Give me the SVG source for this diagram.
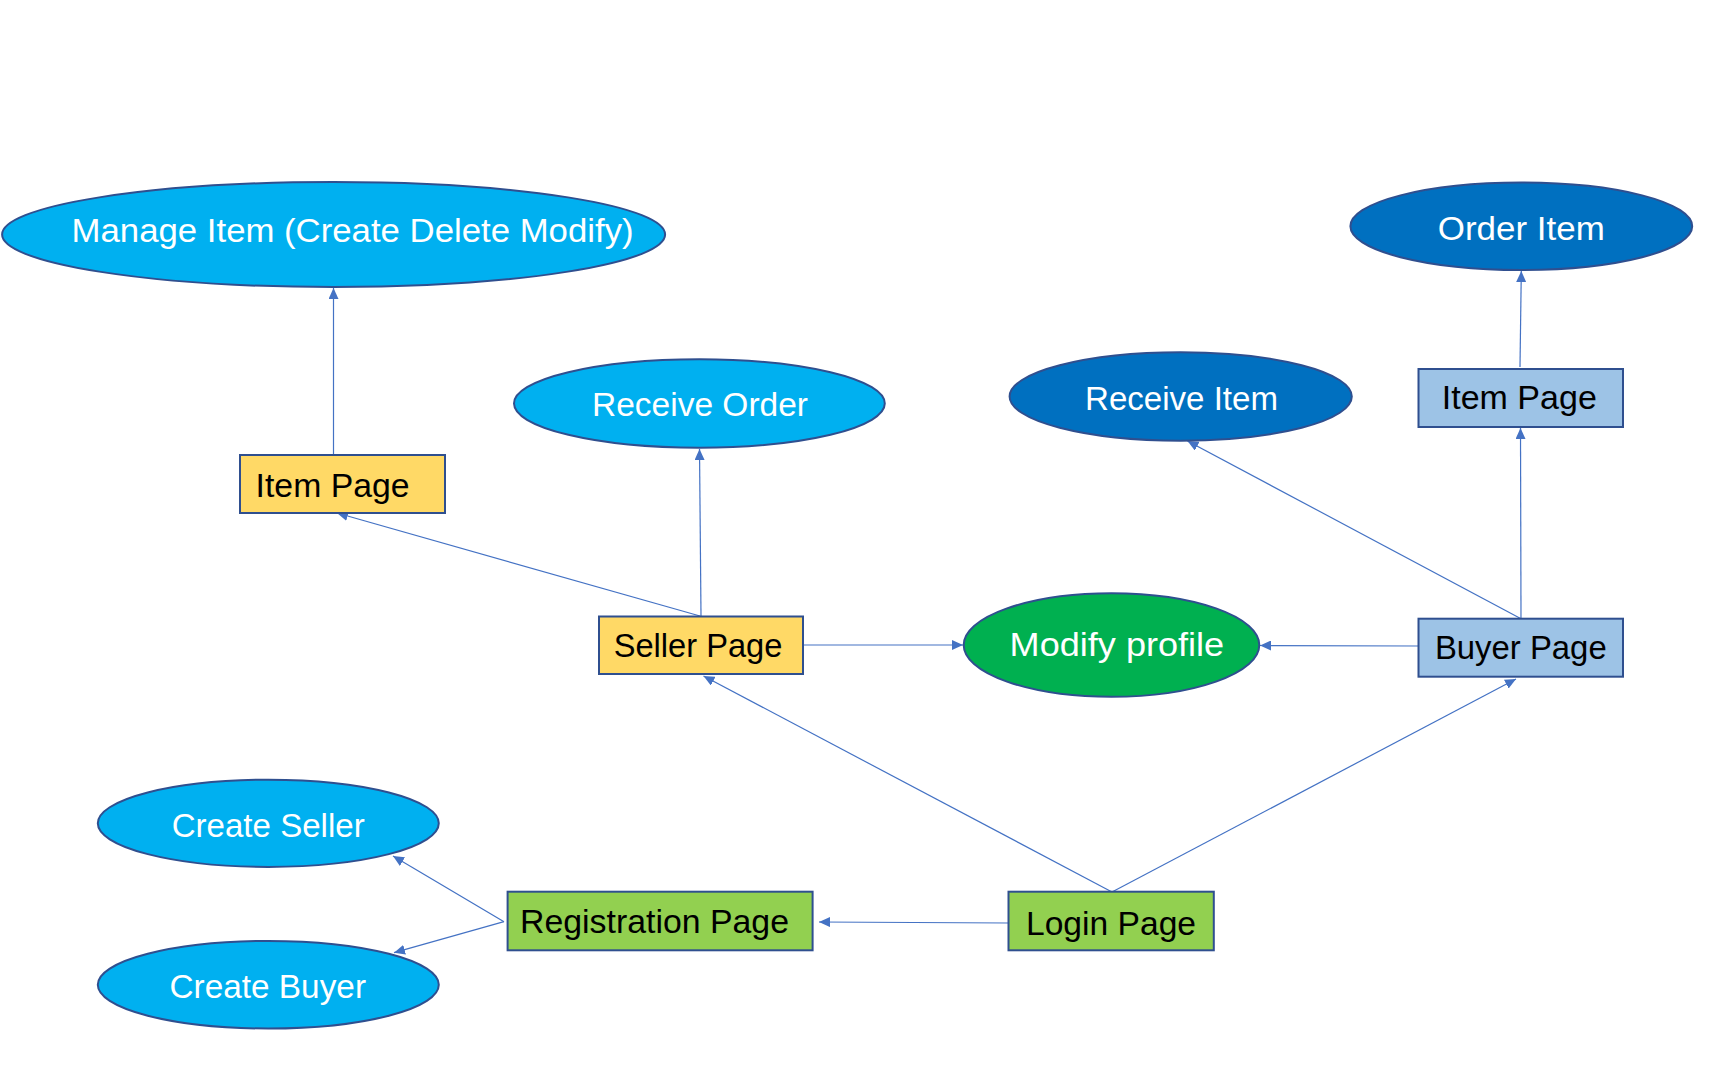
<svg xmlns="http://www.w3.org/2000/svg" width="1729" height="1075" viewBox="0 0 1729 1075">
<style>
.n{stroke:#2F4F8F;stroke-width:2}
.lb{fill:#00B0F0}
.db{fill:#0070C0}
.gr{fill:#00B050}
.ye{fill:#FFD966}
.pb{fill:#9DC3E6}
.lg{fill:#92D050}
.t{font-family:"Liberation Sans",Arial,sans-serif;font-size:34px}
.w{fill:#FFFFFF}
.k{fill:#000000}
.c{fill:none;stroke:#4472C4;stroke-width:1.2;marker-end:url(#ah)}
</style>
<defs>
<marker id="ah" markerUnits="userSpaceOnUse" markerWidth="12" markerHeight="10" refX="11" refY="5" orient="auto">
<path d="M0,0 L11,5 L0,10 z" fill="#4472C4"/>
</marker>
</defs>
<rect width="1729" height="1075" fill="#FFFFFF"/>
<g id="connectors">
<line class="c" x1="333.5" y1="455" x2="333.5" y2="288"/>
<line class="c" x1="701" y1="616" x2="699.5" y2="449"/>
<line class="c" x1="700" y1="616" x2="337" y2="513"/>
<line class="c" x1="803" y1="645" x2="963" y2="645"/>
<line class="c" x1="1418.5" y1="646" x2="1260" y2="645.5"/>
<line class="c" x1="1521" y1="618.7" x2="1520.5" y2="428"/>
<line class="c" x1="1520" y1="367" x2="1521.3" y2="271"/>
<line class="c" x1="1521" y1="618.7" x2="1187.5" y2="441"/>
<line class="c" x1="1112" y1="892" x2="703.5" y2="676"/>
<line class="c" x1="1112" y1="892" x2="1516" y2="679"/>
<line class="c" x1="1008.5" y1="923" x2="819" y2="922"/>
<line class="c" x1="504" y1="921.7" x2="393" y2="856"/>
<line class="c" x1="504" y1="921.7" x2="394" y2="952.7"/>
</g>
<g id="manage-item">
<ellipse class="n lb" cx="333.6" cy="234.5" rx="331.5" ry="52.5"/>
<text class="t w" x="71.6" y="242" textLength="562" lengthAdjust="spacingAndGlyphs">Manage Item (Create Delete Modify)</text>
</g>
<g id="receive-order">
<ellipse class="n lb" cx="699.4" cy="403.5" rx="185.4" ry="44.2"/>
<text class="t w" x="592" y="416" textLength="216" lengthAdjust="spacingAndGlyphs">Receive Order</text>
</g>
<g id="seller-item-page">
<rect class="n ye" x="240" y="455" width="205" height="58"/>
<text class="t k" x="255.6" y="497" textLength="154" lengthAdjust="spacingAndGlyphs">Item Page</text>
</g>
<g id="seller-page">
<rect class="n ye" x="599" y="616.5" width="204" height="57.5"/>
<text class="t k" x="613.7" y="657" textLength="168.7" lengthAdjust="spacingAndGlyphs">Seller Page</text>
</g>
<g id="modify-profile">
<ellipse class="n gr" cx="1111.5" cy="645" rx="147.8" ry="51.8"/>
<text class="t w" x="1009.6" y="656" textLength="214.6" lengthAdjust="spacingAndGlyphs">Modify profile</text>
</g>
<g id="receive-item">
<ellipse class="n db" cx="1180.7" cy="396.5" rx="171.1" ry="44.2"/>
<text class="t w" x="1085" y="410" textLength="193" lengthAdjust="spacingAndGlyphs">Receive Item</text>
</g>
<g id="order-item">
<ellipse class="n db" cx="1521.3" cy="226.3" rx="170.9" ry="43.7"/>
<text class="t w" x="1437.8" y="240" textLength="167" lengthAdjust="spacingAndGlyphs">Order Item</text>
</g>
<g id="buyer-item-page">
<rect class="n pb" x="1418.5" y="369" width="204.5" height="58"/>
<text class="t k" x="1441.8" y="409" textLength="155" lengthAdjust="spacingAndGlyphs">Item Page</text>
</g>
<g id="buyer-page">
<rect class="n pb" x="1418.5" y="618.7" width="204.5" height="58"/>
<text class="t k" x="1434.9" y="659" textLength="171.8" lengthAdjust="spacingAndGlyphs">Buyer Page</text>
</g>
<g id="create-seller">
<ellipse class="n lb" cx="268.3" cy="823.3" rx="170.5" ry="43.6"/>
<text class="t w" x="171.7" y="837" textLength="193" lengthAdjust="spacingAndGlyphs">Create Seller</text>
</g>
<g id="create-buyer">
<ellipse class="n lb" cx="268.3" cy="984.7" rx="170.5" ry="43.8"/>
<text class="t w" x="169.5" y="998" textLength="196.5" lengthAdjust="spacingAndGlyphs">Create Buyer</text>
</g>
<g id="registration-page">
<rect class="n lg" x="507.6" y="891.7" width="305" height="58.6"/>
<text class="t k" x="520" y="933" textLength="269" lengthAdjust="spacingAndGlyphs">Registration Page</text>
</g>
<g id="login-page">
<rect class="n lg" x="1008.5" y="891.7" width="205.3" height="58.6"/>
<text class="t k" x="1026" y="935" textLength="170" lengthAdjust="spacingAndGlyphs">Login Page</text>
</g>
</svg>
